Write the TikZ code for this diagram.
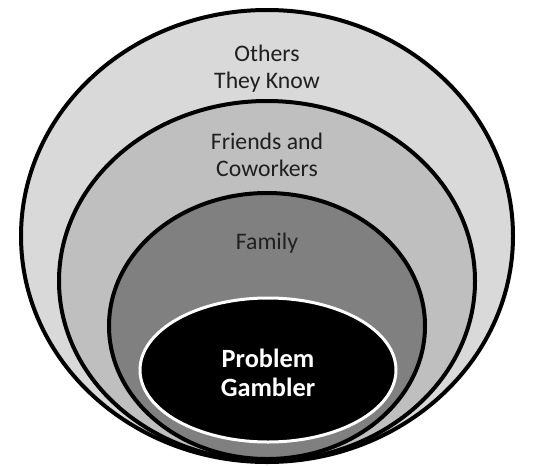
\documentclass[tikz,border=0pt]{standalone}
\usepackage{fontspec}
\setmainfont{Carlito}
\usetikzlibrary{shapes.geometric}

\begin{document}
\begin{tikzpicture}[x=0.02cm,y=-0.02cm]
\useasboundingbox (0,0) rectangle (537,466);
\begin{scope}[every node/.style={ellipse,draw=black,line width=0.08cm,inner sep=0pt}]
    \node[fill=black!15,minimum width=492*0.02cm,minimum height=452*0.02cm] (others) at (267,236) {};
    \node[fill=black!25,minimum width=416*0.02cm,minimum height=360*0.02cm] (friends) at (267,281) {};
    \node[fill=black!50,minimum width=316*0.02cm,minimum height=266*0.02cm] (family) at (267,326) {};
    \node[fill=black,draw=white,line width=0.06cm,minimum width=256*0.02cm,minimum height=144*0.02cm] (gambler) at (268,370) {};
\end{scope}

\begin{scope}[every node/.style={align=center,font=\fontsize{13.5}{15.5}\selectfont,text=black!88}]
    \node (othersText) at (267,69) {Others\\They Know};
    \node (friendsText) at (267,155) {Friends and\\Coworkers};
    \node (familyText) at (267,243) {Family};
    \node[text=white,font=\fontsize{15}{16.5}\selectfont\bfseries] (gamblerText) at (268,373) {Problem\\Gambler};
\end{scope}
\end{tikzpicture}
\end{document}
